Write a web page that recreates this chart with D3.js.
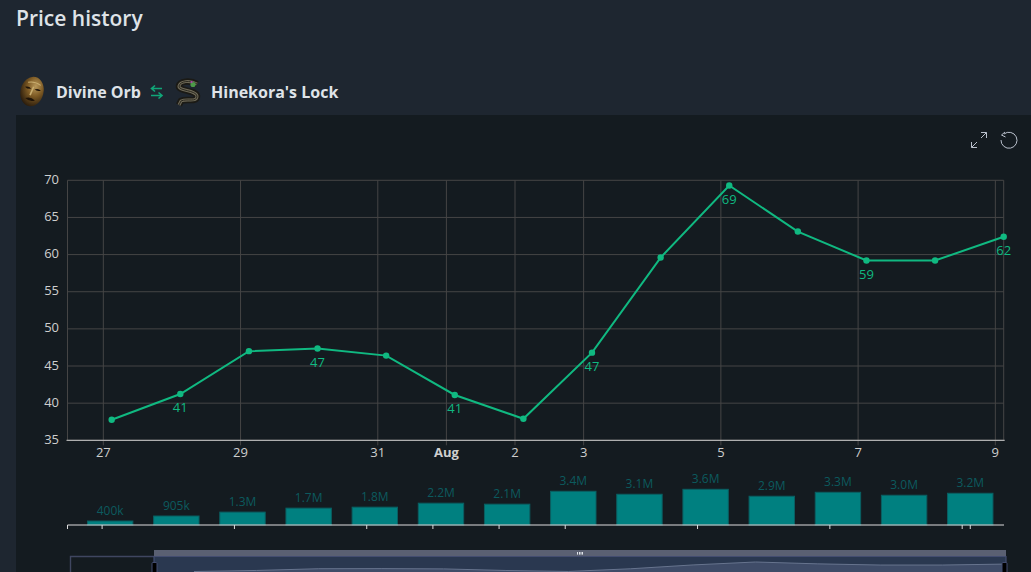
<!DOCTYPE html>
<html><head><meta charset="utf-8">
<script src="https://cdn.jsdelivr.net/npm/d3@7"></script>
<style>html,body{margin:0;padding:0;background:#1e2530;overflow:hidden}svg{display:block}text{font-family:"Open Sans","Noto Sans",sans-serif}</style>
</head><body><div id="c"></div>
<script>
const dates = ["2023-07-27","2023-07-28","2023-07-29","2023-07-30","2023-07-31","2023-08-01","2023-08-02","2023-08-03","2023-08-04","2023-08-05","2023-08-06","2023-08-07","2023-08-08","2023-08-09"];
const prices = [37.77,41.23,47.0,47.35,46.4,41.1,37.9,46.8,59.6,69.3,63.1,59.2,59.2,62.4];
const volumes = [400000,905000,1300000,1700000,1800000,2200000,2100000,3400000,3100000,3600000,2900000,3300000,3000000,3200000];
const labelled = [1,3,5,7,9,11,13];
const priceLabels = ["41","47","41","47","69","59","62"];
const yTicks = [35,40,45,50,55,60,65,70];
const xTickDates = ["2023-07-27","2023-07-29","2023-07-31","2023-08-01","2023-08-02","2023-08-03","2023-08-05","2023-08-07","2023-08-09"];
const xTickLabels = ["27","29","31","Aug","2","3","5","7","9"];
const title = "Price history", fromName = "Divine Orb", toName = "Hinekora's Lock";

const DAY = 864e5, OFFSET = 0.122 * DAY;
const day = s => new Date(s + "T00:00:00Z");
const pts = dates.map(s => new Date(+day(s) + OFFSET));
const svg = d3.select("#c").append("svg").attr("width",1031).attr("height",572);

svg.append("rect").attr("width",1031).attr("height",572).attr("fill","#1e2630");
svg.append("rect").attr("x",16).attr("y",115).attr("width",1015).attr("height",457).attr("fill","#141b20");

svg.append("text").attr("x",16).attr("y",26).attr("font-size",21).attr("font-weight",600).attr("fill","#dfe3e8").text(title);
svg.append("text").attr("x",56).attr("y",98).attr("font-size",16).attr("font-weight",700).attr("fill","#dfe3e8").text(fromName);
svg.append("text").attr("x",211).attr("y",98).attr("font-size",16).attr("font-weight",700).attr("fill","#dfe3e8").text(toName);

// icons
const defs = svg.append("defs");
const g1 = defs.append("radialGradient").attr("id","mask").attr("cx","60%").attr("cy","30%").attr("r","75%");
g1.append("stop").attr("offset","0").attr("stop-color","#b8985a");
g1.append("stop").attr("offset","0.45").attr("stop-color","#7d5a24");
g1.append("stop").attr("offset","1").attr("stop-color","#24170a");
const m = svg.append("g").attr("transform","translate(32,91.5) rotate(14)");
m.append("ellipse").attr("rx",11.5).attr("ry",15).attr("fill","url(#mask)");
m.append("path").attr("d","M-8 -3Q-4 -5 -1.5 -2.5Q-5 -1 -8 -3M2 -2.5Q5 -5 8.5 -3Q5 -1 2 -2.5").attr("fill","#1e1308");
m.append("path").attr("d","M-5 8Q0 5 5 8Q0 11 -5 8").attr("fill","#1e1308");
m.append("path").attr("d","M0.5 -5L-1 4").attr("stroke","#c9ae70").attr("stroke-width",1.6).attr("fill","none");
m.append("path").attr("d","M-6 -8Q0 -11 7 -8").attr("stroke","#c9ae70").attr("stroke-width",1).attr("fill","none");
const snake = "M197 84 C190 80 180 81 179 86 C178 91 196 90 197 96 C197 103 187 98 181 101 L179 105";
svg.append("path").attr("d",snake).attr("fill","none").attr("stroke","#1b1a15").attr("stroke-width",6.5);
svg.append("path").attr("d",snake).attr("fill","none").attr("stroke","#6f6a58").attr("stroke-width",3);
svg.append("path").attr("d",snake).attr("fill","none").attr("stroke","#2a281f").attr("stroke-width",1);
svg.append("circle").attr("cx",193).attr("cy",84.5).attr("r",2.6).attr("fill","#4d9a4a");
svg.append("circle").attr("cx",191.5).attr("cy",82).attr("r",1.1).attr("fill","#b040b0");
// swap arrows
svg.append("path").attr("d","M162 88.5H152M155 85.5L151.5 88.5L155 91.5M151 95.5H161.5M158.5 92.5L162 95.5L158.5 98.5")
  .attr("fill","none").attr("stroke","#10a678").attr("stroke-width",1.6);

// toolbox
svg.append("path").attr("d","M971.5 147.5L977 142M981 138L986.5 132.5M981 132.5H986.5V138M971.5 142V147.5H977")
  .attr("fill","none").attr("stroke","#b9c0cc").attr("stroke-width",1);
svg.append("path").attr("d","M1004 134A8 8 0 1 1 1001 140")
  .attr("fill","none").attr("stroke","#b9c0cc").attr("stroke-width",1);
svg.append("path").attr("d","M1005 132L1001.5 135L1005.5 137").attr("fill","none").attr("stroke","#b9c0cc").attr("stroke-width",1);

// main chart
const X0 = 67.5, X1 = 1003.7, Y0 = 440.3, Y1 = 180.3;
const x = d3.scaleUtc().domain([new Date(+pts[0] - 0.644*DAY), pts[pts.length-1]]).range([X0,X1]);
const y = d3.scaleLinear().domain([35,70]).range([Y0,Y1]);
const grid = svg.append("g").attr("stroke","#454545").attr("stroke-width",1);
yTicks.forEach(t => grid.append("line").attr("x1",X0).attr("x2",X1).attr("y1",y(t)).attr("y2",y(t)));
xTickDates.forEach(t => grid.append("line").attr("x1",x(day(t))).attr("x2",x(day(t))).attr("y1",Y1).attr("y2",Y0+5));
grid.append("line").attr("x1",X0).attr("x2",X0).attr("y1",Y1).attr("y2",Y0);
grid.append("line").attr("x1",X1).attr("x2",X1).attr("y1",Y1).attr("y2",Y0);
svg.append("line").attr("x1",X0-1).attr("x2",X1+1).attr("y1",Y0).attr("y2",Y0).attr("stroke","#ccc");
svg.append("g").selectAll("text").data(yTicks).join("text").attr("x",59).attr("y",d=>y(d)+3.5).attr("text-anchor","end")
  .attr("font-size",13).attr("fill","#cfcfcf").text(d=>d);
svg.append("g").selectAll("text").data(xTickDates).join("text").attr("x",d=>x(day(d))).attr("y",457).attr("text-anchor","middle")
  .attr("font-size",13).attr("fill","#cfcfcf").attr("font-weight",(d,i)=>xTickLabels[i]==="Aug"?700:400).text((d,i)=>xTickLabels[i]);

const GREEN = "#10b981";
svg.append("path").attr("d",d3.line().x((d,i)=>x(pts[i])).y(d=>y(d))(prices)).attr("fill","none").attr("stroke",GREEN).attr("stroke-width",2);
svg.append("g").selectAll("circle").data(prices).join("circle").attr("cx",(d,i)=>x(pts[i])).attr("cy",d=>y(d)).attr("r",3.2).attr("fill",GREEN);
svg.append("g").selectAll("text").data(labelled).join("text").attr("x",d=>x(pts[d])).attr("y",d=>y(prices[d])+18)
  .attr("text-anchor","middle").attr("font-size",13).attr("fill",GREEN).text((d,i)=>priceLabels[i]);

// volume
const BASE = 525;
const xv = d3.scaleUtc().domain([new Date(+pts[0] - 0.645*DAY), new Date(+pts[13] + 0.51*DAY)]).range([X0,1004]);
const yv = d3.scaleLinear().domain([0,3600000]).range([BASE,BASE-35.7]);
const fmt = v => v >= 1e6 ? (v/1e6).toFixed(1)+"M" : (v/1e3)+"k";
svg.append("g").selectAll("rect").data(volumes).join("rect").attr("x",(d,i)=>xv(pts[i])-22.7).attr("width",45.4)
  .attr("y",d=>yv(d)).attr("height",d=>BASE-yv(d)).attr("fill","#008080").attr("stroke","#0a5f62").attr("stroke-width",1);
svg.append("g").selectAll("text").data(volumes).join("text").attr("x",(d,i)=>xv(pts[i])).attr("y",d=>yv(d)-6)
  .attr("text-anchor","middle").attr("font-size",12).attr("fill","#0c5a5e").text(fmt);
svg.append("line").attr("x1",X0).attr("x2",1004).attr("y1",BASE).attr("y2",BASE).attr("stroke","#ddd");
const vt = svg.append("g").attr("stroke","#ddd");
[...xTickDates.map(day), pts[13]].forEach(t => vt.append("line").attr("x1",xv(t)).attr("x2",xv(t)).attr("y1",BASE).attr("y2",BASE+4));
vt.append("line").attr("x1",X0).attr("x2",X0).attr("y1",BASE).attr("y2",BASE+4);

// navigator
const NL = 154, NR = 1006;
svg.append("path").attr("d",`M70.5 572V556.5H${NL}`).attr("fill","none").attr("stroke","#3f4660").attr("stroke-width",1.4);
svg.append("rect").attr("x",NL).attr("y",556).attr("width",NR-NL).attr("height",16).attr("fill","#2a3850");
const xn = d3.scaleUtc().domain([pts[0],pts[13]]).range([194,1005]);
const yn = d3.scaleLinear().domain([69.3,37.77]).range([562,571.5]);
svg.append("path").attr("d",d3.area().x((d,i)=>xn(pts[i])).y0(572).y1(d=>yn(d))(prices)).attr("fill","#3f4c68");
svg.append("path").attr("d",d3.line().x((d,i)=>xn(pts[i])).y(d=>yn(d))(prices)).attr("fill","none").attr("stroke","#67748e").attr("stroke-width",1);
svg.append("rect").attr("x",NL).attr("y",550).attr("width",NR-NL).attr("height",6).attr("fill","#5a6072");
svg.append("path").attr("d",`M${NL} 572V556.5H${NR}V572`).attr("fill","none").attr("stroke","#434d70").attr("stroke-width",1.2);
[577,579,580.5,582].forEach(h => svg.append("rect").attr("x",h).attr("y",552).attr("width",1).attr("height",2.6).attr("fill","#dfe3e8"));
[NL-.5,NR-2.5].forEach(h => svg.append("rect").attr("x",h-1.5).attr("y",562.5).attr("width",5).attr("height",12).attr("rx",1).attr("fill","#000").attr("stroke","#434d70"));
</script></body></html>
